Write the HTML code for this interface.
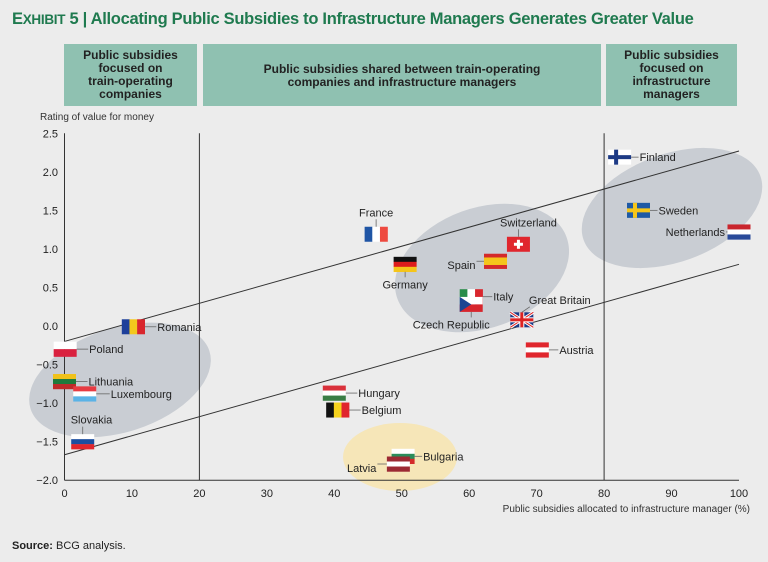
<!DOCTYPE html>
<html><head><meta charset="utf-8"><style>
body{margin:0;background:#ececec;font-family:"Liberation Sans",sans-serif;}
#wrap{position:relative;width:768px;height:562px;background:#ececec;overflow:hidden}
.hdr{position:absolute;top:44px;height:62px;background:#8fc1b1;color:#222;font-weight:bold;font-size:12px;line-height:13px;text-align:center;display:flex;align-items:center;justify-content:center}
</style></head><body>
<div id="wrap">
<div style="position:absolute;left:12px;top:10px;font-size:16.5px;font-weight:bold;color:#1f7a4f;letter-spacing:-0.3px">E<span style="font-size:13.5px">XHIBIT</span> 5 | Allocating Public Subsidies to Infrastructure Managers Generates Greater Value</div>
<div class="hdr" style="left:64px;width:133px">Public subsidies<br>focused on<br>train-operating<br>companies</div>
<div class="hdr" style="left:203px;width:398px;align-items:flex-start;padding-top:0;height:62px"><div style="margin-top:19px">Public subsidies shared between train-operating<br>companies and infrastructure managers</div></div>
<div class="hdr" style="left:606px;width:131px">Public subsidies<br>focused on<br>infrastructure<br>managers</div>
<div style="position:absolute;left:12px;top:540px;font-size:11px;color:#222"><b>Source:</b> BCG analysis.</div>
<svg id="chart" width="768" height="562" style="position:absolute;left:0;top:0"></svg>
</div>
<script>
const countries=["Romania","Poland","Lithuania","Luxembourg","Slovakia","Hungary","Belgium","Bulgaria","Latvia","France","Germany","Spain","Switzerland","Italy","Czech Republic","Great Britain","Austria","Finland","Sweden","Netherlands"];
const subsidyPct=[10.2,0.1,0,3,2.7,40,40.5,50.2,49.5,46.2,50.5,63.9,67.3,60.3,60.3,67.8,70.1,82.3,85.1,100];
const valueRating=[-0.01,-0.3,-0.72,-0.88,-1.5,-0.87,-1.09,-1.69,-1.79,1.19,0.8,0.84,1.06,0.38,0.28,0.08,-0.31,2.19,1.5,1.22];
const xTicks=[0,10,20,30,40,50,60,70,80,90,100];
const yTicks=[2.5,2.0,1.5,1.0,0.5,0.0,-0.5,-1.0,-1.5,-2.0];
const upperLine=[[0,-0.2],[100,2.27]];
const lowerLine=[[0,-1.67],[100,0.8]];
const NS="http://www.w3.org/2000/svg";
const svg=document.getElementById('chart');
const X=v=>64.5+v*6.745, Y=v=>326-v*77.1;
function mk(t,a,p){const e=document.createElementNS(NS,t);for(const k in a)e.setAttribute(k,a[k]);(p||svg).appendChild(e);return e;}
const ells=[[120,380,94,52,-18,'#c9cdd3'],[482,268,90,60,-20,'#c9cdd3'],[672,208,94,54,-20,'#c9cdd3'],[400,457,57,34,0,'#f6e6b8']];
ells.forEach((e,i)=>{const el=mk('ellipse',{cx:e[0],cy:e[1],rx:e[2],ry:e[3],fill:e[5],transform:`rotate(${e[4]} ${e[0]} ${e[1]})`});
});
let ax=mk('line',{x1:X(0),y1:Y(2.5),x2:X(0),y2:Y(-2),stroke:'#333','stroke-width':1});

ax=mk('line',{x1:X(0),y1:Y(-2),x2:X(100),y2:Y(-2),stroke:'#333','stroke-width':1});

[20,80].forEach(v=>{const l=mk('line',{x1:X(v),y1:Y(2.5),x2:X(v),y2:Y(-2),stroke:'#333','stroke-width':1});
});
[upperLine,lowerLine].forEach(L=>{const l=mk('line',{x1:X(L[0][0]),y1:Y(L[0][1]),x2:X(L[1][0]),y2:Y(L[1][1]),stroke:'#333','stroke-width':1});
});
xTicks.forEach(v=>{const t=mk('text',{x:X(v),y:497,'font-size':11,'text-anchor':'middle',fill:'#222'});t.textContent=v;
});
yTicks.forEach(v=>{const t=mk('text',{x:58,y:Y(v)+4,'font-size':11,'text-anchor':'end',fill:'#222'});t.textContent=v.toFixed(1).replace('-','\u2212');
});
let t=mk('text',{x:40,y:120,'font-size':10,fill:'#333'});t.textContent='Rating of value for money';

t=mk('text',{x:750,y:512,'font-size':10,fill:'#333','text-anchor':'end'});t.textContent='Public subsidies allocated to infrastructure manager (%)';

const flagSpec={Romania:['v','#1d3f9a','#f3c81d','#d9262d'],Poland:['h','#fff','#d9213f'],Lithuania:['h','#f0c21a','#1f7a3c','#bf2a2a'],Luxembourg:['h','#e73b42','#fff','#5ab3e6'],Slovakia:['h','#fff','#1b4ea0','#e0262d'],Hungary:['h','#d9313b','#fff','#3a7d45'],Belgium:['v','#111','#f5d21d','#e0262d'],Bulgaria:['h','#fff','#2a8c5a','#d42a2a'],Latvia:['h','#9c2a33','#fff','#9c2a33'],France:['v','#1f55a5','#fff','#ee4a40'],Germany:['h','#111','#dd1c1c','#f5c51a'],Spain:['h','#d42a2a','#f5c51a','#f5c51a','#d42a2a'],Switzerland:['ch'],Italy:['v','#2a8c4a','#fff','#d9262d'],'Czech Republic':['cz'],'Great Britain':['gb'],Austria:['h','#e0262d','#fff','#e0262d'],Finland:['fi'],Sweden:['se'],Netherlands:['h','#c9252d','#fff','#2a4a9a']};
const lab={Romania:[24,4,'start'],Poland:[24,4,'start'],Lithuania:[24,4,'start'],Luxembourg:[26,4,'start'],Slovakia:[-12,-18,'start'],Hungary:[24,4,'start'],Belgium:[24,4,'start'],Bulgaria:[20,4,'start'],Latvia:[-22,8,'end'],France:[0,-18,'middle'],Germany:[0,24,'middle'],Spain:[-20,8,'end'],Switzerland:[10,-18,'middle'],Italy:[22,4,'start'],'Czech Republic':[-20,24,'middle'],'Great Britain':[38,-16,'middle'],Austria:[22,4,'start'],Finland:[20,4,'start'],Sweden:[20,4,'start'],Netherlands:[-14,4,'end']};
const W=23,H=15;
countries.forEach((c,i)=>{
 const cx=X(subsidyPct[i]),cy=Y(valueRating[i]);
 const g=mk('g',{transform:`translate(${cx-W/2},${cy-H/2})`});
 
 
 const s=flagSpec[c];
 if(s[0]==='h'||s[0]==='v'){const n=s.length-1;for(let k=0;k<n;k++){if(s[0]==='h')mk('rect',{x:0,y:k*H/n,width:W,height:H/n+0.2,fill:s[k+1]},g);else mk('rect',{x:k*W/n,y:0,width:W/n+0.2,height:H,fill:s[k+1]},g);}}
 else if(s[0]==='ch'){mk('rect',{width:W,height:H,fill:'#e0262d'},g);mk('rect',{x:W/2-1.5,y:3,width:3,height:9,fill:'#fff'},g);mk('rect',{x:W/2-4.5,y:6,width:9,height:3,fill:'#fff'},g);}
 else if(s[0]==='cz'){mk('rect',{width:W,height:H/2,fill:'#fff'},g);mk('rect',{y:H/2,width:W,height:H/2,fill:'#d7262d'},g);mk('polygon',{points:`0,0 ${W/2},${H/2} 0,${H}`,fill:'#1d4592'},g);}
 else if(s[0]==='gb'){mk('rect',{width:W,height:H,fill:'#1d3a85'},g);mk('line',{x1:0,y1:0,x2:W,y2:H,stroke:'#fff','stroke-width':3},g);mk('line',{x1:W,y1:0,x2:0,y2:H,stroke:'#fff','stroke-width':3},g);mk('line',{x1:0,y1:0,x2:W,y2:H,stroke:'#d22',"stroke-width":1},g);mk('line',{x1:W,y1:0,x2:0,y2:H,stroke:'#d22','stroke-width':1},g);mk('rect',{x:W/2-2.5,y:0,width:5,height:H,fill:'#fff'},g);mk('rect',{x:0,y:H/2-2.5,width:W,height:5,fill:'#fff'},g);mk('rect',{x:W/2-1.5,y:0,width:3,height:H,fill:'#d22'},g);mk('rect',{x:0,y:H/2-1.5,width:W,height:3,fill:'#d22'},g);}
 else if(s[0]==='fi'){mk('rect',{width:W,height:H,fill:'#fff'},g);mk('rect',{x:6,y:0,width:4,height:H,fill:'#1d3a85'},g);mk('rect',{x:0,y:H/2-2,width:W,height:4,fill:'#1d3a85'},g);}
 else if(s[0]==='se'){mk('rect',{width:W,height:H,fill:'#1f5aa5'},g);mk('rect',{x:6,y:0,width:4,height:H,fill:'#f5c51a'},g);mk('rect',{x:0,y:H/2-2,width:W,height:4,fill:'#f5c51a'},g);}
 const L=lab[c];
 const tx=cx+L[0],ty=cy+L[1];
 let lx1,ly1,lx2,ly2;
 if(L[2]==='start'&&Math.abs(L[1])<=8){lx1=cx+W/2;ly1=cy;lx2=tx-1;ly2=cy;}
 else if(L[2]==='end'&&Math.abs(L[1])<=8){lx1=cx-W/2;ly1=cy;lx2=tx+1;ly2=cy;}
 else if(L[1]<0){lx1=cx;ly1=cy-H/2;lx2=cx+(L[0]>20?8:0);ly2=ty+3;}
 else {lx1=cx;ly1=cy+H/2;lx2=cx;ly2=ty-11;}
 const ll=mk('line',{x1:lx1,y1:ly1,x2:lx2,y2:ly2,stroke:'#666','stroke-width':0.8});
 
 const tt=mk('text',{x:tx,y:ty,'font-size':11,fill:'#222','text-anchor':L[2]});tt.textContent=c;
 
});
</script>
</body></html>
